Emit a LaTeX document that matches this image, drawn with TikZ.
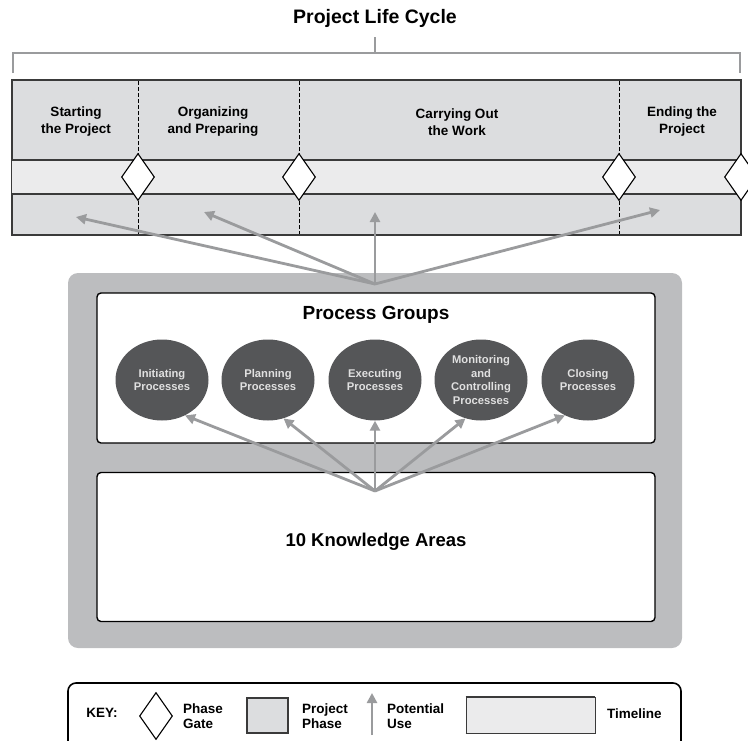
\documentclass[tikz,border=0pt]{standalone}
\usepackage{fontspec}
\setmainfont{Liberation Sans}
\usetikzlibrary{shapes.geometric,arrows.meta}

\definecolor{phasefill}{HTML}{DCDDDF}
\definecolor{linefill}{HTML}{EBEBEC}
\definecolor{usegray}{HTML}{9A9B9D}
\definecolor{backgray}{HTML}{BCBDBF}
\definecolor{circfill}{HTML}{555658}
\definecolor{edgegray}{HTML}{3A3A3A}

\begin{document}
\begin{tikzpicture}[x=1pt,y=-1pt,font=\bfseries]
\tikzstyle{every node}+=[inner sep=0pt]
\tikzstyle{gate}=[diamond,draw=black,fill=white,line width=1.1pt,minimum width=33pt,minimum height=47pt]
\tikzstyle{use}=[usegray,line width=2.8pt,-{Triangle[length=10pt,width=10pt]}]
\tikzstyle{phaselabel}=[align=center,font=\bfseries\fontsize{13.5}{17}\selectfont]
\tikzstyle{group}=[ellipse,fill=circfill,minimum width=93pt,minimum height=81pt,text=white!88!black,align=center,font=\bfseries\fontsize{11.2}{13.5}\selectfont]
\tikzstyle{panel}=[draw=black,fill=white,line width=1.4pt,rounded corners=4pt]
\tikzstyle{keytext}=[align=left,anchor=west,font=\bfseries\fontsize{13.5}{15}\selectfont]

\useasboundingbox (0,0) rectangle (748,740);
\clip (0,0) rectangle (748,740);

\node (title) at (375,18) {\fontsize{19.5}{22}\selectfont Project Life Cycle};
\coordinate (brace) at (375,53);
\draw[usegray,line width=2.6pt] (375,37) -- (brace);
\draw[usegray,line width=2.6pt] (13,73) -- (13,53) -- (740,53) -- (740,73);

\node[draw=edgegray,fill=phasefill,line width=1.6pt,minimum width=729pt,minimum height=155pt] (cycle) at (376.5,157.5) {};
\fill[linefill] (12,160) rectangle (741,194);
\draw[edgegray,line width=1.6pt] (12,160) -- (741,160) (12,194) -- (741,194);
\foreach \x in {138,299,619}
  \draw[dash pattern=on 3.5pt off 2.5pt,line width=0.9pt] (\x,81) -- (\x,234);
\foreach \x/\n in {138/gate1,299/gate2,619/gate3,741/gate4}
  \node[gate] (\n) at (\x,177) {};

\node[phaselabel] (start) at (76,122) {Starting\\the Project};
\node[phaselabel] (organize) at (213,122) {Organizing\\and Preparing};
\node[phaselabel] (work) at (457,122) {Carrying Out\\the Work};
\node[phaselabel] (ending) at (682,122) {Ending the\\Project};

\fill[backgray,rounded corners=10pt] (68,273) rectangle (682,648);

\coordinate (hubtop) at (375,284);
\coordinate (use1) at (76,217);
\coordinate (use2) at (204,212);
\coordinate (use3) at (375,212);
\coordinate (use4) at (660,210);
\foreach \n in {use1,use2,use3,use4}
  \draw[use] (hubtop) -- (\n);

\node[panel,minimum width=558pt,minimum height=150pt] (groups) at (376,368) {};
\node[font=\bfseries\fontsize{19}{22}\selectfont] (groupstitle) at (376,315) {Process Groups};

\node[group] (init) at (162,380) {Initiating\\Processes};
\node[group] (plan) at (268,380) {Planning\\Processes};
\node[group] (exec) at (375,380) {Executing\\Processes};
\node[group] (monit) at (481,380) {Monitoring\\and\\Controlling\\Processes};
\node[group] (close) at (588,380) {Closing\\Processes};

\node[panel,minimum width=558pt,minimum height=149pt] (areas) at (376,547) {};
\node[font=\bfseries\fontsize{18.5}{22}\selectfont] (areastitle) at (376,542) {10 Knowledge Areas};

\coordinate (hubmid) at (375,491);
\draw[use] (hubmid) -- (init.-57);
\draw[use] (hubmid) -- (plan.-68);
\draw[use] (hubmid) -- (exec.south);
\draw[use] (hubmid) -- (monit.-112);
\draw[use] (hubmid) -- (close.-123);

\draw[line width=1.6pt,rounded corners=8pt,fill=white] (68,760) -- (68,683) -- (681,683) -- (681,760);
\node (keylabel) at (102,713) {\fontsize{13.5}{15}\selectfont KEY:};
\node[gate] (keygate) at (156,716) {};
\node[keytext] (gatetext) at (183,716) {Phase\\Gate};
\node[draw=edgegray,fill=phasefill,line width=1.4pt,minimum width=41pt,minimum height=35pt] (keyphase) at (267.5,715.5) {};
\node[keytext] (phasetext) at (302,716) {Project\\Phase};
\coordinate (keyfoot) at (372,735);
\coordinate (keyhead) at (372,693);
\draw[use] (keyfoot) -- (keyhead);
\node[keytext] (usetext) at (387,716) {Potential\\Use};
\node[fill=linefill,draw=edgegray,line width=0.6pt,minimum width=129pt,minimum height=36pt] (keyline) at (530.5,715) {};
\draw[edgegray,line width=1.6pt] (keyline.north west) -- (keyline.north east) (keyline.south west) -- (keyline.south east);
\node[keytext] (linetext) at (607,714) {Timeline};
\end{tikzpicture}
\end{document}
